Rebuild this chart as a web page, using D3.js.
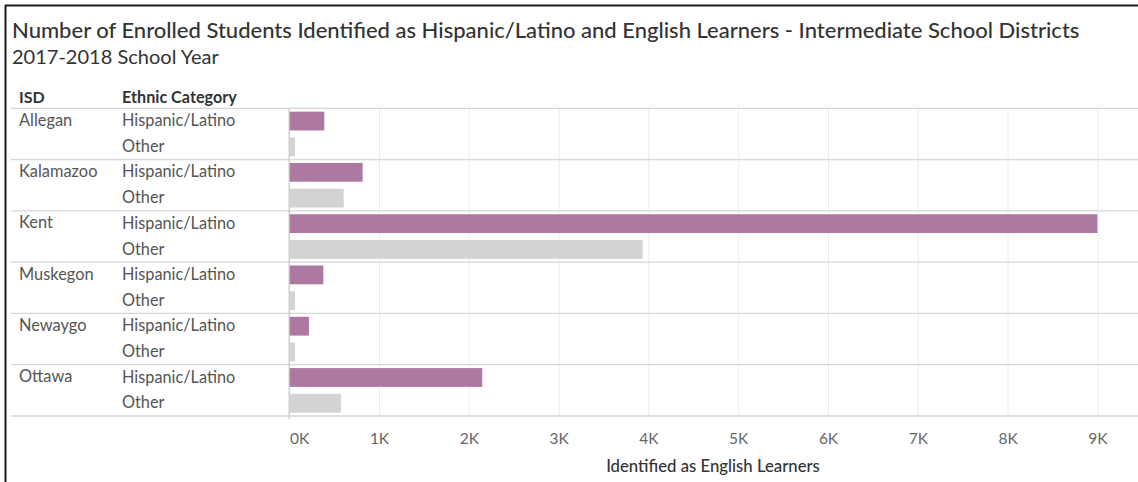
<!DOCTYPE html>
<html><head><meta charset="utf-8">
<script src="https://cdn.jsdelivr.net/npm/d3@7"></script>
<style>
html,body{margin:0;padding:0;background:#fff;}
svg{display:block;font-family:Lato,"Open Sans",sans-serif;}
</style></head>
<body><svg id="c" width="1138" height="482"></svg>
<script>
const titleText = "Number of Enrolled Students Identified as Hispanic/Latino and English Learners - Intermediate School Districts";
const subtitleText = "2017-2018 School Year";
const isds = ["Allegan","Kalamazoo","Kent","Muskegon","Newaygo","Ottawa"];
const categories = ["Hispanic/Latino","Other"];
const hispanicValues = [391, 818, 9000, 380, 220, 2150];
const otherValues = [65, 607, 3935, 65, 65, 577];
const tickValues = [0,1000,2000,3000,4000,5000,6000,7000,8000,9000];
const colors = {"Hispanic/Latino":"#AE79A1","Other":"#D3D3D3"};

(function(){
const rows = [];
isds.forEach((isd,i)=>{
  rows.push({isd, cat:categories[0], value:hispanicValues[i]});
  rows.push({isd, cat:categories[1], value:otherValues[i]});
});

const svg = d3.select("#c");
const W = 1138, H = 482;
const pTop = 108.3, pBottom = 416, plotLeft = 289.2;

const x = d3.scaleLinear().domain([0,9000]).range([plotLeft, 1097.4]);
const yG = d3.scaleBand().domain(isds).range([pTop,pBottom]).padding(0);
const yC = d3.scaleBand().domain(categories).range([0,yG.bandwidth()]).paddingInner(0.27).paddingOuter(0.13);

// frame
svg.append("line").attr("x1",5.5).attr("x2",5.5).attr("y1",5).attr("y2",H).attr("stroke","#1a1a1a").attr("stroke-width",2);
svg.append("line").attr("x1",5).attr("x2",W).attr("y1",5.5).attr("y2",5.5).attr("stroke","#1a1a1a").attr("stroke-width",2);

function fit(sel, w){
  const n = sel.node(); const cur = n.getComputedTextLength();
  const fs = parseFloat(sel.attr("font-size"));
  sel.attr("font-size", fs*w/cur);
}
// title
const t = svg.append("text").attr("x",12).attr("y",38).attr("font-size",19).attr("fill","#333")
  .attr("font-weight",500).text(titleText);
fit(t, 1068);
const st = svg.append("text").attr("x",12).attr("y",64).attr("font-size",17).attr("fill","#333")
  .attr("font-weight",400).text(subtitleText);
fit(st, 207);

// headers
svg.append("text").attr("x",19).attr("y",103).attr("font-size",16).attr("font-weight",700).attr("fill","#333").text("ISD");
svg.append("text").attr("x",122).attr("y",103).attr("font-size",16.2).attr("font-weight",700).attr("fill","#333").text("Ethnic Category");

// gridlines via axis
const gridAxis = d3.axisBottom(x).tickValues(tickValues).tickSize(pBottom-pTop).tickFormat("");
const grid = svg.append("g").attr("transform",`translate(0,${pTop})`).call(gridAxis);
grid.select(".domain").remove();
grid.selectAll(".tick line").attr("stroke","#ececec").attr("stroke-width",1);
grid.selectAll(".tick").filter(d=>d===0).remove();

// row separators
const seps = [pTop, ...isds.map(d=>yG(d)+yG.bandwidth())];
svg.selectAll(".sep").data(seps).enter().append("line")
  .attr("x1",11).attr("x2",W).attr("y1",d=>d).attr("y2",d=>d)
  .attr("stroke","#d6d6d6").attr("stroke-width",1.3);

// zero axis line
svg.append("line").attr("x1",x(0)).attr("x2",x(0)).attr("y1",pTop).attr("y2",pBottom+3).attr("stroke","#c8c8c8").attr("stroke-width",1.3);

// bars
svg.selectAll(".bar").data(rows).enter().append("rect")
  .attr("x",x(0)+0.5)
  .attr("y",d=>yG(d.isd)+yC(d.cat))
  .attr("width",d=>x(d.value)-x(0)-0.5)
  .attr("height",yC.bandwidth())
  .attr("fill",d=>colors[d.cat]);

// labels
svg.selectAll(".isd").data(isds).enter().append("text")
  .attr("x",19).attr("y",d=>yG(d)+yC(categories[0])+yC.bandwidth()/2+0.5)
  .attr("dominant-baseline","middle").attr("font-size",16.4).attr("fill","#555").text(d=>d);
svg.selectAll(".cat").data(rows).enter().append("text")
  .attr("x",122).attr("y",d=>yG(d.isd)+yC(d.cat)+yC.bandwidth()/2+1)
  .attr("dominant-baseline","middle").attr("font-size",16.3).attr("fill","#555").text(d=>d.cat);

// x axis labels
const xAxis = d3.axisBottom(x).tickValues(tickValues).tickSize(0).tickPadding(0).tickFormat(d=>(d/1000)+"K");
const ax = svg.append("g").attr("transform",`translate(0,${pBottom+17})`).call(xAxis);
ax.select(".domain").remove();
ax.selectAll("text").attr("font-size",15.5).attr("fill","#666").attr("font-family","Lato,'Open Sans',sans-serif");
ax.selectAll(".tick").filter(d=>d===0).select("text").attr("dx",10);

const at = svg.append("text").attr("x",713).attr("y",472).attr("text-anchor","middle").attr("font-size",14)
  .attr("font-weight",500).attr("fill","#333").text("Identified as English Learners");
fit(at, 214);
})();
</script></body></html>
